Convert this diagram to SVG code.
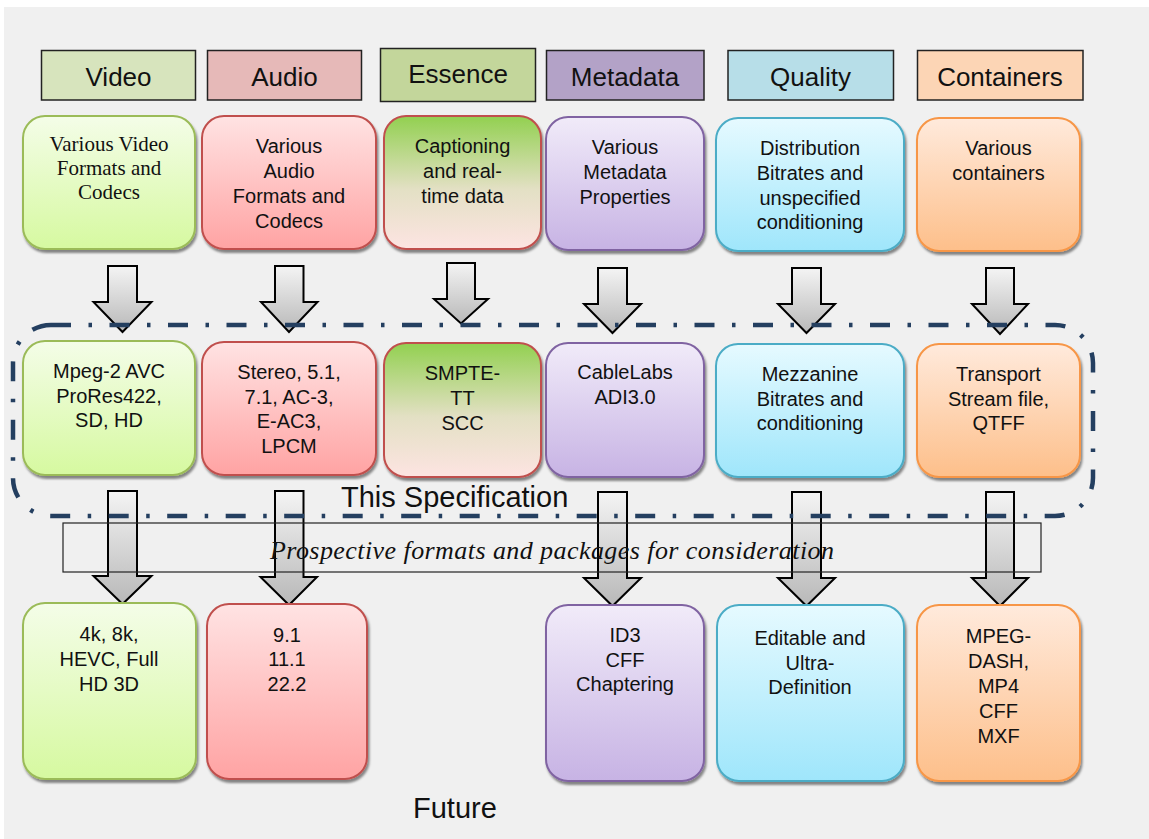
<svg xmlns="http://www.w3.org/2000/svg" width="1149" height="839" viewBox="0 0 1149 839">
<style>
.hdr{stroke:#222;stroke-width:1.5}
.ht{font-family:"Liberation Sans",Arial,sans-serif;font-size:26px;fill:#111;text-anchor:middle}
.bt{font-family:"Liberation Sans",Arial,sans-serif;font-size:20px;fill:#111;text-anchor:middle}
.st{font-family:"Liberation Serif","Times New Roman",serif;font-size:21px;fill:#111;text-anchor:middle}
.box{stroke-width:2;filter:url(#sh)}
.arr{fill:url(#ga);stroke:#000;stroke-width:2;stroke-linejoin:miter}
.big{font-family:"Liberation Sans",Arial,sans-serif;font-size:29px;fill:#111}
</style>
<defs>
<filter id="sh" x="-10%" y="-10%" width="130%" height="130%">
<feDropShadow dx="1.5" dy="3" stdDeviation="1.2" flood-color="#000" flood-opacity="0.45"/>
</filter>
<linearGradient id="ga" x1="0" y1="0" x2="0" y2="1"><stop offset="0" stop-color="#f4f4f4"/><stop offset="1" stop-color="#b8b8b8"/></linearGradient>
<linearGradient id="gg" x1="0" y1="0" x2="0" y2="1"><stop offset="0" stop-color="#f4fde8"/><stop offset="1" stop-color="#d6f9a0"/></linearGradient>
<linearGradient id="gr" x1="0" y1="0" x2="0" y2="1"><stop offset="0" stop-color="#ffe3e3"/><stop offset="1" stop-color="#ffa3a3"/></linearGradient>
<linearGradient id="ge" x1="0" y1="0" x2="0" y2="1"><stop offset="0" stop-color="#92d050"/><stop offset="0.55" stop-color="#e3e0c4"/><stop offset="1" stop-color="#fde4e2"/></linearGradient>
<linearGradient id="gp" x1="0" y1="0" x2="0" y2="1"><stop offset="0" stop-color="#f1ebf9"/><stop offset="1" stop-color="#c7b3e4"/></linearGradient>
<linearGradient id="gb" x1="0" y1="0" x2="0" y2="1"><stop offset="0" stop-color="#e6faff"/><stop offset="1" stop-color="#9fe6fb"/></linearGradient>
<linearGradient id="go" x1="0" y1="0" x2="0" y2="1"><stop offset="0" stop-color="#ffeadc"/><stop offset="1" stop-color="#fdbf8a"/></linearGradient>
</defs>
<rect x="0" y="0" width="1149" height="839" fill="#fff"/>
<rect x="4" y="7" width="1145" height="832" fill="#f0f0f0"/>

<!-- headers -->
<g id="hdr-video"><rect class="hdr" x="41.5" y="50.5" width="154" height="49.5" fill="#d7e4bd"/><text class="ht" x="118.5" y="86">Video</text></g>
<g id="hdr-audio"><rect class="hdr" x="207.5" y="50.5" width="154" height="49.5" fill="#e6b9b8"/><text class="ht" x="284.5" y="86">Audio</text></g>
<g id="hdr-essence"><rect class="hdr" x="380.5" y="48.5" width="155" height="53" fill="#c3d69b"/><text class="ht" x="458" y="83">Essence</text></g>
<g id="hdr-metadata"><rect class="hdr" x="546.5" y="50.5" width="157.5" height="49.5" fill="#b3a2c7"/><text class="ht" x="625" y="86">Metadata</text></g>
<g id="hdr-quality"><rect class="hdr" x="728" y="50.5" width="165.5" height="49.5" fill="#b7dee8"/><text class="ht" x="810.5" y="86">Quality</text></g>
<g id="hdr-containers"><rect class="hdr" x="917.5" y="50.5" width="165.5" height="49.5" fill="#fcd5b5"/><text class="ht" x="1000" y="86">Containers</text></g>

<!-- connectors (block arrows) -->
<g id="connectors">
<path class="arr" d="M108,266H137V302H151.5L122.5,332L93.5,302H108Z"/>
<path class="arr" d="M275,266H303.5V302H317.5L289,332L261,302H275Z"/>
<path class="arr" d="M447,263H475V299H488L461,323.5L434,299H447Z"/>
<path class="arr" d="M598,268H627V304H641L612.5,333L584,304H598Z"/>
<path class="arr" d="M792,268H821V304H835L806.5,333L778,304H792Z"/>
<path class="arr" d="M986,268H1014V304H1028L1000,334L972,304H986Z"/>
<path class="arr" d="M108,491H137V576H151.5L122.5,604L93.5,576H108Z"/>
<path class="arr" d="M275,491H303.5V577H317L289,605L260.5,577H275Z"/>
<path class="arr" d="M598,492H627V578H641L612.5,606L584,578H598Z"/>
<path class="arr" d="M792,492H821V578H835L806.5,606L778,578H792Z"/>
<path class="arr" d="M986,492H1014V578H1028L1000,606L972,578H986Z"/>
</g>

<!-- row 1 -->
<g id="r1-video"><rect class="box" x="23" y="116" width="172" height="133" rx="22" fill="url(#gg)" stroke="#9bbb59"/>
<text class="st" x="109" y="151">Various Video</text><text class="st" x="109" y="175">Formats and</text><text class="st" x="109" y="199">Codecs</text></g>
<g id="r1-audio"><rect class="box" x="202" y="116" width="174" height="133" rx="22" fill="url(#gr)" stroke="#c0504d"/>
<text class="bt" x="289" y="153">Various</text><text class="bt" x="289" y="178">Audio</text><text class="bt" x="289" y="203">Formats and</text><text class="bt" x="289" y="228">Codecs</text></g>
<g id="r1-essence"><rect class="box" x="384" y="116" width="157" height="133" rx="22" fill="url(#ge)" stroke="#c0504d"/>
<text class="bt" x="462.5" y="153">Captioning</text><text class="bt" x="462.5" y="178">and real-</text><text class="bt" x="462.5" y="203">time data</text></g>
<g id="r1-metadata"><rect class="box" x="546" y="117" width="158" height="133" rx="22" fill="url(#gp)" stroke="#8064a2"/>
<text class="bt" x="625" y="154">Various</text><text class="bt" x="625" y="179">Metadata</text><text class="bt" x="625" y="204">Properties</text></g>
<g id="r1-quality"><rect class="box" x="716" y="118" width="188" height="133" rx="22" fill="url(#gb)" stroke="#4bacc6"/>
<text class="bt" x="810" y="155">Distribution</text><text class="bt" x="810" y="180">Bitrates and</text><text class="bt" x="810" y="205">unspecified</text><text class="bt" x="810" y="229">conditioning</text></g>
<g id="r1-containers"><rect class="box" x="917" y="118" width="163" height="133" rx="22" fill="url(#go)" stroke="#f79646"/>
<text class="bt" x="998.5" y="155">Various</text><text class="bt" x="998.5" y="180">containers</text></g>

<!-- row 2 -->
<g id="r2-video"><rect class="box" x="23" y="341" width="172" height="134" rx="22" fill="url(#gg)" stroke="#9bbb59"/>
<text class="bt" x="109" y="378">Mpeg-2 AVC</text><text class="bt" x="109" y="403">ProRes422,</text><text class="bt" x="109" y="427">SD, HD</text></g>
<g id="r2-audio"><rect class="box" x="202" y="342" width="174" height="133" rx="22" fill="url(#gr)" stroke="#c0504d"/>
<text class="bt" x="289" y="379">Stereo, 5.1,</text><text class="bt" x="289" y="404">7.1, AC-3,</text><text class="bt" x="289" y="428">E-AC3,</text><text class="bt" x="289" y="453">LPCM</text></g>
<g id="r2-essence"><rect class="box" x="384" y="343" width="157" height="134" rx="22" fill="url(#ge)" stroke="#c0504d"/>
<text class="bt" x="462.5" y="380">SMPTE-</text><text class="bt" x="462.5" y="405">TT</text><text class="bt" x="462.5" y="430">SCC</text></g>
<g id="r2-metadata"><rect class="box" x="546" y="343" width="158" height="134" rx="22" fill="url(#gp)" stroke="#8064a2"/>
<text class="bt" x="625" y="379">CableLabs</text><text class="bt" x="625" y="404">ADI3.0</text></g>
<g id="r2-quality"><rect class="box" x="716" y="344" width="188" height="133" rx="22" fill="url(#gb)" stroke="#4bacc6"/>
<text class="bt" x="810" y="381">Mezzanine</text><text class="bt" x="810" y="406">Bitrates and</text><text class="bt" x="810" y="430">conditioning</text></g>
<g id="r2-containers"><rect class="box" x="917" y="344" width="163" height="133" rx="22" fill="url(#go)" stroke="#f79646"/>
<text class="bt" x="998.5" y="381">Transport</text><text class="bt" x="998.5" y="406">Stream file,</text><text class="bt" x="998.5" y="430">QTFF</text></g>

<!-- row 3 -->
<g id="r3-video"><rect class="box" x="23" y="603" width="173" height="176" rx="22" fill="url(#gg)" stroke="#9bbb59"/>
<text class="bt" x="109" y="641">4k, 8k,</text><text class="bt" x="109" y="666">HEVC, Full</text><text class="bt" x="109" y="691">HD 3D</text></g>
<g id="r3-audio"><rect class="box" x="207" y="604" width="160" height="175" rx="22" fill="url(#gr)" stroke="#c0504d"/>
<text class="bt" x="287" y="642">9.1</text><text class="bt" x="287" y="666">11.1</text><text class="bt" x="287" y="691">22.2</text></g>
<g id="r3-metadata"><rect class="box" x="546" y="605" width="158" height="176" rx="22" fill="url(#gp)" stroke="#8064a2"/>
<text class="bt" x="625" y="642">ID3</text><text class="bt" x="625" y="667">CFF</text><text class="bt" x="625" y="691">Chaptering</text></g>
<g id="r3-quality"><rect class="box" x="717" y="605" width="187" height="176" rx="22" fill="url(#gb)" stroke="#4bacc6"/>
<text class="bt" x="810" y="645">Editable and</text><text class="bt" x="810" y="670">Ultra-</text><text class="bt" x="810" y="694">Definition</text></g>
<g id="r3-containers"><rect class="box" x="917" y="605" width="163" height="176" rx="22" fill="url(#go)" stroke="#f79646"/>
<text class="bt" x="998.5" y="643">MPEG-</text><text class="bt" x="998.5" y="668">DASH,</text><text class="bt" x="998.5" y="693">MP4</text><text class="bt" x="998.5" y="718">CFF</text><text class="bt" x="998.5" y="743">MXF</text></g>

<!-- prospective band -->
<g id="prospective">
<rect x="63" y="523" width="978" height="49" fill="none" stroke="#222" stroke-width="1.2"/>
<text x="552" y="558.5" font-family="'Liberation Serif','Times New Roman',serif" font-style="italic" font-size="26" fill="#111" text-anchor="middle" textLength="564" lengthAdjust="spacing">Prospective formats and packages for consideration</text>
</g>

<!-- this specification frame -->
<g id="this-spec">
<rect x="13" y="325" width="1080" height="191" rx="38" fill="none" stroke="#243f60" stroke-width="4.5" stroke-dasharray="20 17.5 3.5 17.5"/>
<text class="big" x="341" y="507">This Specification</text>
</g>

<g id="future"><text class="big" x="413" y="818" font-size="31">Future</text></g>
</svg>
